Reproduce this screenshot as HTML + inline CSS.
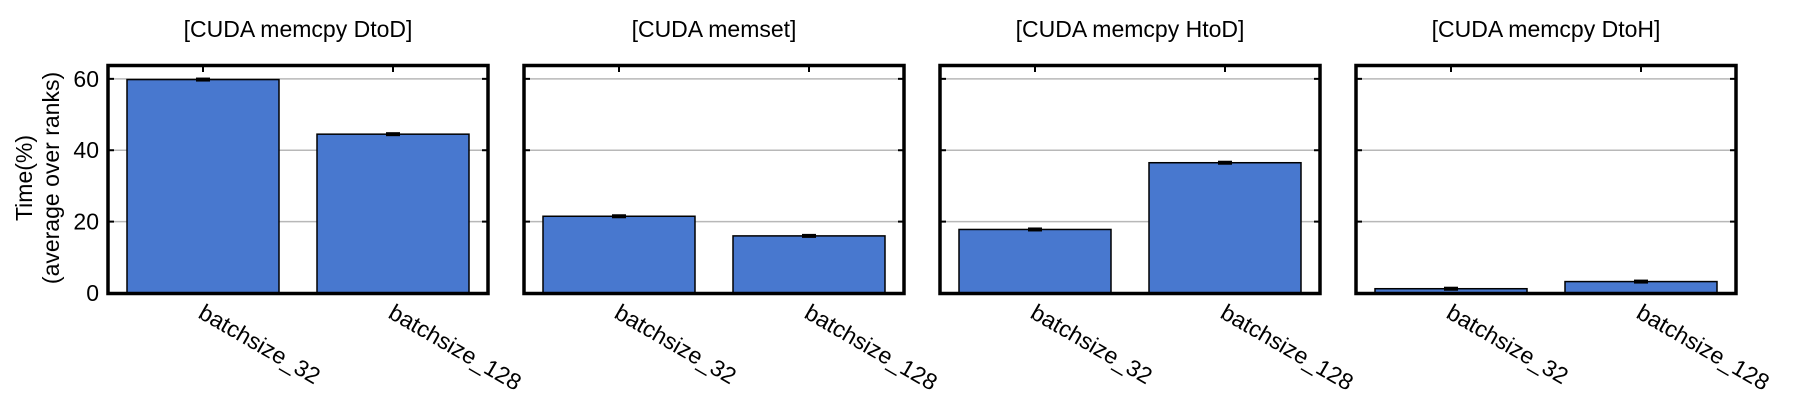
<!DOCTYPE html>
<html><head><meta charset="utf-8"><style>
html,body{margin:0;padding:0;background:#fff;}
svg{display:block;font-family:"Liberation Sans",Arial,sans-serif;}
</style></head><body>
<svg id="chart" width="1796" height="417" viewBox="0 0 1796 417" xmlns="http://www.w3.org/2000/svg">
<g>
<text x="32" y="178" font-size="23" text-anchor="middle" transform="rotate(-90,32,178)">Time(%)</text>
<text x="59" y="178" font-size="23" text-anchor="middle" transform="rotate(-90,59,178)">(average over ranks)</text>
</g>
</svg>
<script>
const panelTitles = ["[CUDA memcpy DtoD]", "[CUDA memset]", "[CUDA memcpy HtoD]", "[CUDA memcpy DtoH]"];
const categories = ["batchsize_32", "batchsize_128"];
const valuesDtoD = [59.8, 44.5];
const valuesMemset = [21.5, 16.0];
const valuesHtoD = [17.8, 36.5];
const valuesDtoH = [1.2, 3.2];
const errorsDtoD = [0.4, 0.4];
const errorsMemset = [0.3, 0.3];
const errorsHtoD = [0.2, 0.4];
const errorsDtoH = [0.1, 0.2];
const yTicks = [0, 20, 40, 60];

const series = [valuesDtoD, valuesMemset, valuesHtoD, valuesDtoH];
const errs = [errorsDtoD, errorsMemset, errorsHtoD, errorsDtoH];
const svgEl = document.getElementById('chart');
const NS = 'http://www.w3.org/2000/svg';
function mk(tag, attrs, parent) {
  const e = document.createElementNS(NS, tag);
  for (const k in attrs) e.setAttribute(k, attrs[k]);
  (parent || svgEl).appendChild(e);
  return e;
}
const yTop = 66, yBottom = 293, yMax = 63.6;
const yScale = v => yBottom - v / yMax * (yBottom - yTop);
const pw = 380, gap = 36, left0 = 108;
panelTitles.forEach((title, p) => {
  const L = left0 + p * (pw + gap), R = L + pw;
  const g = mk('g', {});
  
  
  const t = mk('text', {x: (L + R) / 2, y: 37, 'font-size': 23, 'text-anchor': 'middle'}, g);
  t.textContent = title;
  
  
  const cw = pw / categories.length;
  const xScale = i => L + cw * (i + 0.5);
  yTicks.forEach(v => {
    if (v === 0) return;
    const gl = mk('line', {x1: L, x2: R, y1: yScale(v), y2: yScale(v), stroke: '#b8b8b8', 'stroke-width': 1.5}, g);
    
    
  });
  categories.forEach((c, i) => {
    const v = series[p][i], bw = cw * 0.8;
    const b = mk('rect', {x: xScale(i) - bw / 2, y: yScale(v), width: bw, height: yScale(0) - yScale(v), fill: '#4878cf', stroke: '#000', 'stroke-width': 1.5}, g);
    
    
    const e = errs[p][i];
    const eb = mk('line', {x1: xScale(i), x2: xScale(i), y1: yScale(v + e), y2: yScale(v - e), stroke: '#000', 'stroke-width': 2}, g);
    
    
    const cap = mk('rect', {x: xScale(i) - 7, y: yScale(v) - 2, width: 14, height: 4, fill: '#000'}, g);
    
    
    const tk = mk('line', {x1: xScale(i), x2: xScale(i), y1: yTop, y2: yTop + 6, stroke: '#000', 'stroke-width': 2}, g);
    
    
    const lx = xScale(i) - 6, ly = 317;
    const lb = mk('text', {x: lx, y: ly, 'font-size': 23, transform: `rotate(30,${lx},${ly})`}, g);
    lb.textContent = c;
    
    
  });
  yTicks.forEach(v => {
    [[L, L + 6], [R - 6, R]].forEach(([a, b2]) => {
      const tk = mk('line', {x1: a, x2: b2, y1: yScale(v), y2: yScale(v), stroke: '#000', 'stroke-width': 2}, g);
      
      
    });
    if (p === 0) {
      const tl = mk('text', {x: 99, y: yScale(v) + 8, 'font-size': 23, 'text-anchor': 'end'}, g);
      tl.textContent = v;
      
      
    }
  });
  const fr = mk('rect', {x: L, y: yTop - 0.5, width: pw, height: yBottom - yTop + 1, fill: 'none', stroke: '#000', 'stroke-width': 3.5}, g);
  
  
});
</script>
</body></html>
